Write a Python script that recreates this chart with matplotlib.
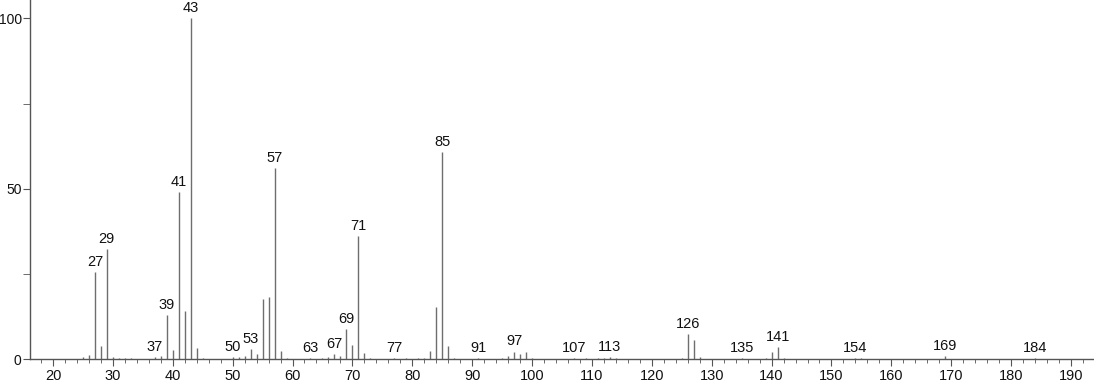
import numpy as np
import matplotlib
matplotlib.use("Agg")
import matplotlib.pyplot as plt
from matplotlib.ticker import MultipleLocator

plt.rcParams["font.family"] = ["Liberation Sans", "DejaVu Sans"]

# Spectrum peaks (m/z, relative intensity)
mz = [25, 26, 27, 28, 29, 30, 31, 32, 33, 37, 38, 39, 40, 41, 42, 43, 44, 45,
      50, 51, 52, 53, 54, 55, 56, 57, 58, 59, 63, 65, 66, 67, 68, 69, 70, 71,
      72, 73, 77, 79, 81, 82, 83, 84, 85, 86, 87, 91, 95, 96, 97, 98, 99, 100,
      107, 109, 111, 112, 113, 114, 125, 126, 127, 128, 135, 139, 140, 141, 142,
      154, 155, 169, 184]
intensity = [0.5, 1.2, 25.6, 3.8, 32.3, 0.7, 0.3, 0.2, 0.4, 0.5, 0.9, 12.9, 2.6,
             49.0, 14.1, 100.0, 3.2, 0.4,
             0.5, 0.5, 0.8, 2.9, 1.5, 17.5, 18.3, 56.0, 2.4, 0.3, 0.3, 0.4, 0.6,
             1.4, 0.8, 8.8, 4.2, 36.0,
             1.7, 0.4, 0.3, 0.3, 0.3, 0.4, 2.4, 15.3, 60.9, 3.8, 0.4, 0.3, 0.4,
             0.8, 2.2, 1.6, 2.1, 0.3,
             0.3, 0.3, 0.3, 0.3, 0.6, 0.3, 0.3, 7.3, 5.5, 0.6, 0.3, 0.3, 2.1,
             3.5, 0.3,
             0.3, 0.3, 0.8, 0.4]
labeled = [27, 29, 37, 39, 41, 43, 50, 53, 57, 63, 67, 69, 71, 77, 85, 91, 97,
           107, 113, 126, 135, 141, 154, 169, 184]

fig = plt.figure(figsize=(10.94, 3.84), dpi=100)
ax = fig.add_axes([0.0274, 0.065, 0.9726, 0.935])

peak_color = "#6e6e6e"
ax.vlines(mz, 0, intensity, color=peak_color, linewidth=1.0)

lookup = dict(zip(mz, intensity))
for m in labeled:
    ax.text(m, lookup[m] + 0.9, str(m), ha="center", va="bottom", fontsize=10.5,
            color="#111111")

ax.set_xlim(16.16, 193.84)
ax.set_ylim(0, 105.4)
ax.xaxis.set_major_locator(MultipleLocator(10))
ax.xaxis.set_minor_locator(MultipleLocator(2))
ax.yaxis.set_major_locator(MultipleLocator(50))
ax.yaxis.set_minor_locator(MultipleLocator(25))

for side in ["top", "right"]:
    ax.spines[side].set_visible(False)
for side in ["left", "bottom"]:
    ax.spines[side].set_color("#555555")
    ax.spines[side].set_linewidth(1.0)

ax.tick_params(axis="both", which="both", direction="out", color="#555555",
               labelcolor="#111111")
ax.tick_params(axis="x", which="major", length=5, pad=2, labelsize=10.5)
ax.tick_params(axis="x", which="minor", length=3)
ax.tick_params(axis="y", which="major", length=5, pad=1, labelsize=10)
ax.tick_params(axis="y", which="minor", length=5)

fig.savefig("out.png", dpi=100)
